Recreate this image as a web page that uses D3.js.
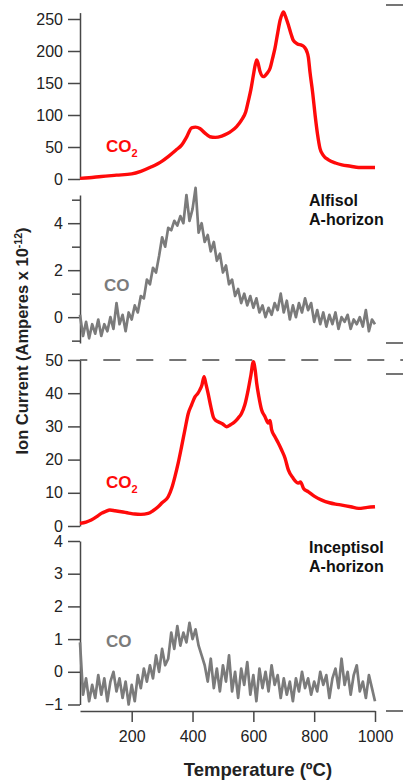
<!DOCTYPE html>
<html>
<head>
<meta charset="utf-8">
<script src="https://cdnjs.cloudflare.com/ajax/libs/d3/7.8.5/d3.min.js"></script>
<style>
  body { margin: 0; background: #fff; }
  text { font-family: "Liberation Sans", Arial, sans-serif; }
</style>
</head>
<body>
<svg width="403" height="782"></svg>
<script>
// ---- data (temperature in degC, ion current) ----
var alfCO2Temp = [30, 60, 100, 150, 200, 230, 265, 300, 320, 345, 364, 380, 397, 410, 424, 440, 457, 475, 496, 515, 528, 545, 561, 575, 583, 592, 600, 606, 611, 616, 622, 633, 645, 655, 663, 671, 680, 688, 695, 699, 705, 715, 725, 731, 745, 759, 768, 776, 781, 786, 795, 803, 811, 819, 830, 847, 870, 891, 920, 946, 975, 1000];
var alfCO2 = [1, 2, 4, 6, 8, 12, 19, 28, 35, 45, 53, 65, 80, 81, 79, 72, 66, 65, 67, 71, 75, 82, 92, 105, 121, 140, 162, 178, 186, 180, 168, 160, 165, 173, 188, 204, 228, 248, 258, 261, 255, 241, 225, 217, 211, 209, 206, 199, 190, 168, 135, 100, 70, 48, 37, 30, 25, 22, 20, 18, 18, 18];

var incCO2Temp = [30, 50, 67, 85, 100, 115, 128, 145, 166, 190, 210, 230, 254, 270, 287, 300, 320, 332, 342, 353, 364, 375, 386, 397, 408, 418, 424, 431, 438, 444, 451, 460, 468, 476, 484, 498, 512, 525, 539, 550, 561, 572, 583, 592, 600, 606, 611, 618, 627, 638, 649, 655, 660, 671, 682, 693, 704, 715, 730, 748, 755, 765, 781, 800, 825, 850, 870, 891, 920, 946, 975, 1000];
var incCO2 = [0.8, 1.2, 1.8, 2.8, 3.8, 4.4, 4.8, 4.6, 4.3, 3.9, 3.6, 3.5, 3.8, 4.6, 5.8, 7.0, 8.8, 11.5, 14.8, 19.0, 23.9, 29.0, 33.9, 36.5, 38.9, 40.0, 41.0, 42.5, 45.0, 42.8, 40.0, 36.0, 32.9, 31.8, 31.4, 30.8, 29.9, 30.5, 31.4, 32.5, 33.9, 36.5, 41.0, 45.5, 49.5, 47.0, 43.0, 39.0, 35.0, 33.0, 31.0, 31.8, 29.0, 26.9, 25.0, 22.9, 20.5, 16.9, 14.5, 12.9, 13.3, 11.3, 10.3, 9.0, 7.8, 7.0, 6.6, 6.3, 5.8, 5.3, 5.6, 5.8];

// CO traces sampled every 10 degC
var coTemp = d3.range(30, 1001, 10);
var alfCO = [0.1, -0.8, -0.2, -0.9, -0.3, -0.7, -0.1, -0.8, -0.3, -0.6, 0.0, -0.5, 0.6, -0.3, 0.1, -0.6, 0.2, -0.1, 0.5, 0.2,
  0.9, 0.8, 1.6, 1.4, 2.1, 1.9, 2.6, 3.4, 3.0, 3.8, 3.7, 4.1, 3.9, 4.3, 4.0, 5.2, 4.1, 4.6, 5.5, 3.6,
  4.0, 3.2, 3.5, 2.8, 3.2, 2.4, 2.7, 1.9, 2.2, 1.4, 1.6, 0.9, 1.2, 0.6, 1.0, 0.5, 0.9, 0.4, 0.8, 0.2,
  0.5, 0.0, 0.4, 0.1, 0.6, 0.3, 1.0, 0.2, 0.7, -0.1, 0.5, 0.0, 0.6, 0.2, 0.8, 0.3, 0.6, -0.2, 0.3, -0.3,
  0.2, -0.4, 0.1, -0.3, 0.2, -0.5, 0.0, -0.2, 0.1, -0.5, -0.1, -0.3, 0.0, -0.4, 0.3, -0.6, -0.1, -0.3];
var incCO = [0.9, -0.7, -0.2, -0.9, -0.4, -0.8, -0.1, -0.7, -0.2, -0.9, -0.3, 0.0, -0.6, -0.2, -0.8, -0.3, -1.0, -0.4, -0.9, -0.1,
  -0.5, 0.1, -0.3, 0.2, -0.2, 0.5, 0.0, 0.7, 0.2, 0.4, 1.2, 0.7, 1.4, 0.8, 1.2, 0.9, 1.5, 1.0, 1.3, 0.8,
  0.5, 0.2, -0.3, 0.4, -0.5, 0.1, -0.6, 0.2, -0.3, 0.5, -0.6, 0.0, -0.8, 0.1, -0.4, 0.3, -0.7, -0.1, -0.9, 0.1,
  -0.5, 0.0, -0.6, 0.2, -0.4, -0.1, -0.8, -0.2, -0.7, -0.3, -0.9, -0.2, -0.6, 0.0, -0.5, -0.2, -0.7, -0.3, -0.6, 0.0,
  -0.4, -0.1, -0.8, -0.2, 0.1, -0.5, 0.4, -0.4, 0.0, -0.7, -0.1, 0.2, -0.6, -0.3, -0.8, -0.1, -0.5, -0.9];

var xTicks = [200, 400, 600, 800, 1000];
var alfCO2Ticks = [0, 50, 100, 150, 200, 250];
var alfCOTicks = [0, 2, 4], alfCOMinor = [-1, 1, 3, 5];
var incCO2Ticks = [0, 10, 20, 30, 40, 50];
var incCOTicks = [-1, 0, 1, 2, 3, 4];

var red = "#ff0a0a", grey = "#7b7b7b", axisCol = "#474747", textCol = "#222";

var svg = d3.select("svg");

var x = d3.scaleLinear().domain([30, 1000]).range([80, 375]);

var panels = [
  { t: alfCO2Temp, v: alfCO2, domain: [0, 260], range: [179, 12.6], ticks: alfCO2Ticks, minor: [], color: red, width: 3.4, name: "CO", sub: "2", lx: 106, ly: 152 },
  { t: coTemp, v: alfCO, domain: [-1.1, 5.2], range: [343, 195], ticks: alfCOTicks, minor: alfCOMinor, color: grey, width: 2.7, name: "CO", sub: null, lx: 104, ly: 291 },
  { t: incCO2Temp, v: incCO2, domain: [0, 50], range: [526, 360], ticks: incCO2Ticks, minor: [], color: red, width: 3.4, name: "CO", sub: "2", lx: 106, ly: 488 },
  { t: coTemp, v: incCO, domain: [-1, 4], range: [704.5, 541], ticks: incCOTicks, minor: [], color: grey, width: 2.7, name: "CO", sub: null, lx: 106, ly: 647 }
];

function styleAxis(g) {
  g.selectAll("path, line").attr("stroke", axisCol).attr("stroke-width", 1.5);
  g.selectAll("text").attr("fill", textCol).style("font-size", "16px")
    .style("font-family", "'Liberation Sans', Arial, sans-serif");
}

panels.forEach(function(p) {
  var y = d3.scaleLinear().domain(p.domain).range(p.range);

  var ax = svg.append("g")
    .attr("transform", "translate(80,0)")
    .call(d3.axisLeft(y).tickValues(p.ticks).tickSize(12).tickSizeOuter(0).tickPadding(5).tickFormat(d3.format("d")));
  styleAxis(ax);

  if (p.minor.length) {
    var mx = svg.append("g")
      .attr("transform", "translate(80,0)")
      .call(d3.axisLeft(y).tickValues(p.minor).tickSize(8).tickSizeOuter(0).tickFormat(""));
    styleAxis(mx);
    mx.select(".domain").remove();
  }

  var pts = p.t.map(function(d, i) { return [d, p.v[i]]; });
  var line = d3.line()
    .x(function(d) { return x(d[0]); })
    .y(function(d) { return y(d[1]); })
    .curve(p.color === red ? d3.curveMonotoneX : d3.curveLinear);

  svg.append("path")
    .datum(pts)
    .attr("fill", "none")
    .attr("stroke", p.color)
    .attr("stroke-width", p.width)
    .attr("stroke-linejoin", "round")
    .attr("d", line);

  var lab = svg.append("text")
    .attr("x", p.lx)
    .attr("y", p.ly)
    .attr("fill", p.color)
    .style("font-size", "17px")
    .style("font-weight", "bold")
    .text(p.name);
  if (p.sub) {
    lab.append("tspan").attr("dy", 5).style("font-size", "11px").text(p.sub);
  }

  p.y = y;
});

// dashed line at 50 on the Inceptisol CO2 panel
svg.append("line")
  .attr("x1", 80).attr("x2", 403)
  .attr("y1", panels[2].y(50)).attr("y2", panels[2].y(50))
  .attr("stroke", axisCol)
  .attr("stroke-width", 1.5)
  .attr("stroke-dasharray", "17,16")
  .attr("stroke-dashoffset", 9.7);

// x axis
var xa = svg.append("g")
  .attr("transform", "translate(0,711)")
  .call(d3.axisBottom(x).tickValues(xTicks).tickSize(11).tickSizeOuter(0).tickPadding(9).tickFormat(d3.format("d")));
styleAxis(xa);

svg.append("text")
  .attr("x", 258).attr("y", 776)
  .attr("text-anchor", "middle")
  .attr("fill", textCol)
  .style("font-size", "18.5px").style("font-weight", "bold")
  .text("Temperature (ºC)");

// y axis title
var yt = svg.append("text")
  .attr("transform", "translate(28,341) rotate(-90)")
  .attr("text-anchor", "middle")
  .attr("fill", textCol)
  .style("font-size", "16.5px").style("font-weight", "bold");
yt.append("tspan").text("Ion Current (Amperes x 10");
yt.append("tspan").attr("dy", -6).style("font-size", "10.5px").text("-12");
yt.append("tspan").attr("dy", 6).text(")");

// sample names
function sampleLabel(lines, y0) {
  var t = svg.append("text")
    .attr("x", 309).attr("y", y0)
    .attr("fill", "#111")
    .style("font-size", "16px").style("font-weight", "bold");
  lines.forEach(function(s, i) {
    t.append("tspan").attr("x", 309).attr("dy", i ? 19 : 0).text(s);
  });
}
sampleLabel(["Alfisol", "A-horizon"], 206);
sampleLabel(["Inceptisol", "A-horizon"], 553);

// stray axis fragments of the neighbouring graph at the right edge
[5, 343, 374, 711].forEach(function(yy) {
  svg.append("line")
    .attr("x1", 386).attr("x2", 403)
    .attr("y1", yy).attr("y2", yy)
    .attr("stroke", axisCol).attr("stroke-width", 1.5);
});
</script>
</body>
</html>
